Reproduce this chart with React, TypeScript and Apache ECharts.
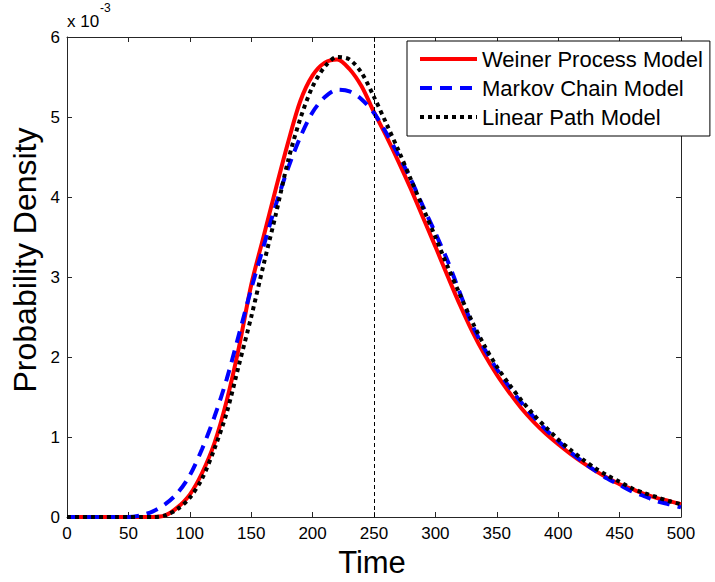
import React, { useEffect, useRef } from "react";
import * as echarts from "echarts";

// Time grid (x values)
const TIME = [
  0, 10, 20, 30, 40, 50, 60, 70, 80, 90, 100, 110, 120, 130, 140, 150, 160, 170, 180, 190, 200,
  210, 220, 230, 240, 250, 260, 270, 280, 290, 300, 310, 320, 330, 340, 350, 360, 370, 380, 390,
  400, 410, 420, 430, 440, 450, 460, 470, 480, 490, 500,
];

// Probability density values, in units of 1e-3
const WEINER = [
  0, 0, 0, 0, 0, 0, 0, 0, 0.02, 0.12, 0.28, 0.55, 0.92, 1.45, 2.12, 2.9, 3.5, 4.1, 4.68, 5.2, 5.52,
  5.68, 5.72, 5.6, 5.38, 5.06, 4.76, 4.44, 4.1, 3.74, 3.38, 3.01, 2.65, 2.32, 2.03, 1.78, 1.56, 1.36, 1.19, 1.04,
  0.91, 0.79, 0.68, 0.58, 0.49, 0.41, 0.35, 0.29, 0.24, 0.2, 0.16,
];

const MARKOV = [
  0, 0, 0, 0, 0, 0, 0.02, 0.07, 0.16, 0.3, 0.52, 0.85, 1.25, 1.72, 2.28, 2.85, 3.38, 3.9, 4.36, 4.75, 5.06,
  5.25, 5.34, 5.32, 5.22, 5.05, 4.8, 4.52, 4.22, 3.88, 3.55, 3.2, 2.8, 2.4, 2.1, 1.85, 1.63, 1.43, 1.25, 1.09,
  0.95, 0.81, 0.69, 0.58, 0.48, 0.4, 0.32, 0.26, 0.2, 0.16, 0.12,
];

const LINEAR = [
  0, 0, 0, 0, 0, 0, 0, 0, 0.02, 0.1, 0.24, 0.48, 0.85, 1.3, 1.9, 2.5, 3.15, 3.78, 4.45, 4.98, 5.38,
  5.63, 5.75, 5.72, 5.55, 5.25, 4.92, 4.58, 4.22, 3.86, 3.5, 3.13, 2.78, 2.44, 2.14, 1.88, 1.66, 1.46, 1.28, 1.12,
  0.97, 0.84, 0.72, 0.61, 0.52, 0.44, 0.36, 0.3, 0.25, 0.2, 0.16,
];

const SERIES_NAMES = ["Weiner Process Model", "Markov Chain Model", "Linear Path Model"];
const X_TICKS = { min: 0, max: 500, interval: 50 };
const Y_TICKS = { min: 0, max: 6, interval: 1 };
const MARK_TIME = 250;

const FONT = "'Liberation Sans', Arial, Helvetica, sans-serif";
const AXIS_COLOR = "#262626";

export default function App() {
  const ref = useRef<HTMLDivElement>(null);

  useEffect(() => {
    if (!ref.current) return;
    const chart = echarts.init(ref.current, undefined, { renderer: "svg" });

    const toPairs = (vals: number[]) => TIME.map((t, i) => [t, vals[i]]);

    const xCommon = {
      type: "value" as const,
      min: X_TICKS.min,
      max: X_TICKS.max,
      interval: X_TICKS.interval,
      splitLine: { show: false },
      axisLine: { show: true, onZero: false, lineStyle: { color: AXIS_COLOR, width: 1 } },
      axisTick: { show: true, inside: true, length: 5, lineStyle: { color: AXIS_COLOR, width: 1 } },
    };
    const yCommon = {
      type: "value" as const,
      min: Y_TICKS.min,
      max: Y_TICKS.max,
      interval: Y_TICKS.interval,
      splitLine: { show: false },
      axisLine: { show: true, onZero: false, lineStyle: { color: AXIS_COLOR, width: 1 } },
      axisTick: { show: true, inside: true, length: 5, lineStyle: { color: AXIS_COLOR, width: 1 } },
    };

    chart.setOption({
      animation: false,
      backgroundColor: "#ffffff",
      grid: { left: 67, top: 37, right: 34, bottom: 65, containLabel: false },
      xAxis: [
        {
          ...xCommon,
          position: "bottom",
          axisLabel: { show: true, fontSize: 17, color: "#000", fontFamily: FONT, margin: 8 },
        },
        { ...xCommon, position: "top", axisLabel: { show: false } },
      ],
      yAxis: [
        {
          ...yCommon,
          position: "left",
          axisLabel: { show: true, fontSize: 17, color: "#000", fontFamily: FONT, margin: 7 },
        },
        { ...yCommon, position: "right", axisLabel: { show: false } },
      ],
      legend: {
        orient: "vertical",
        left: 407,
        top: 41,
        backgroundColor: "#ffffff",
        borderColor: "#000",
        borderWidth: 1,
        borderRadius: 0,
        padding: [7, 7, 8, 11],
        itemWidth: 57,
        itemHeight: 22,
        itemGap: 7,
        lineStyle: { width: 4 },
        itemStyle: { opacity: 0, borderWidth: 0 },
        textStyle: { fontSize: 22, color: "#000", fontFamily: FONT, lineHeight: 22 },
        data: SERIES_NAMES,
      },
      graphic: [
        {
          type: "text",
          x: 67,
          y: 13,
          style: { text: "x 10", font: `17px ${FONT}`, fill: "#000" },
        },
        {
          type: "text",
          x: 100,
          y: 2,
          style: { text: "-3", font: `12px ${FONT}`, fill: "#000" },
        },
        {
          type: "text",
          x: 25,
          y: 260,
          rotation: Math.PI / 2,
          style: {
            text: "Probability Density",
            font: `32px ${FONT}`,
            fill: "#000",
            align: "center",
            verticalAlign: "middle",
            textAlign: "center",
            textVerticalAlign: "middle",
          },
        },
        {
          type: "text",
          x: 372,
          y: 562,
          style: {
            text: "Time",
            font: `31px ${FONT}`,
            fill: "#000",
            align: "center",
            verticalAlign: "middle",
            textAlign: "center",
            textVerticalAlign: "middle",
          },
        },
      ],
      series: [
        {
          name: SERIES_NAMES[0],
          type: "line",
          data: toPairs(WEINER),
          symbol: "none",
          smooth: 0.3,
          lineStyle: { color: "#ff0000", width: 4, type: "solid" },
          itemStyle: { color: "#ff0000" },
          markLine: {
            silent: true,
            symbol: ["none", "none"],
            label: { show: false },
            lineStyle: { color: "#000", width: 1, type: [4, 3] },
            data: [{ xAxis: MARK_TIME }],
          },
          z: 2,
        },
        {
          name: SERIES_NAMES[1],
          type: "line",
          data: toPairs(MARKOV),
          symbol: "none",
          smooth: 0.3,
          lineStyle: { color: "#0000ff", width: 4, type: [12, 8] },
          itemStyle: { color: "#0000ff" },
          z: 3,
        },
        {
          name: SERIES_NAMES[2],
          type: "line",
          data: toPairs(LINEAR),
          symbol: "none",
          smooth: 0.3,
          lineStyle: { color: "#000000", width: 4, type: [4, 4] },
          itemStyle: { color: "#000000" },
          z: 4,
        },
      ],
    });

    return () => chart.dispose();
  }, []);

  return (
    <div
      ref={ref}
      style={{ position: "fixed", left: 0, top: 0, width: 715, height: 582, background: "#fff" }}
    />
  );
}
